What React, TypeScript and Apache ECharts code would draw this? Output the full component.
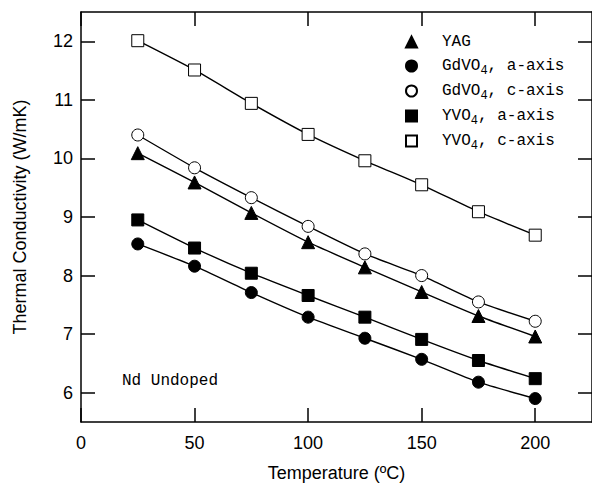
import React, { useEffect, useRef } from "react";
import * as echarts from "echarts";

const temperatures = [25, 50, 75, 100, 125, 150, 175, 200];
const yag = [10.09, 9.59, 9.07, 8.57, 8.14, 7.72, 7.31, 6.96];
const gdvo4A = [8.54, 8.16, 7.71, 7.29, 6.93, 6.57, 6.18, 5.9];
const gdvo4C = [10.4, 9.84, 9.33, 8.84, 8.37, 8.0, 7.55, 7.22];
const yvo4A = [8.95, 8.47, 8.04, 7.66, 7.29, 6.91, 6.55, 6.24];
const yvo4C = [12.01, 11.51, 10.94, 10.41, 9.96, 9.55, 9.09, 8.69];

const xTicks = [0, 50, 100, 150, 200];
const yTicks = [6, 7, 8, 9, 10, 11, 12];

const seriesDefs = [
  { name: "YAG", label: "YAG", data: yag, symbol: "triangle", filled: true, size: 13 },
  { name: "GdVO4a", label: "GdVO{sub|4}, a-axis", data: gdvo4A, symbol: "circle", filled: true, size: 12 },
  { name: "GdVO4c", label: "GdVO{sub|4}, c-axis", data: gdvo4C, symbol: "circle", filled: false, size: 12 },
  { name: "YVO4a", label: "YVO{sub|4}, a-axis", data: yvo4A, symbol: "rect", filled: true, size: 12 },
  { name: "YVO4c", label: "YVO{sub|4}, c-axis", data: yvo4C, symbol: "rect", filled: false, size: 12 },
];

export default function App() {
  const ref = useRef<HTMLDivElement>(null);
  useEffect(() => {
    if (!ref.current) return;
    const chart = echarts.init(ref.current, undefined, { renderer: "svg" });
    const sansFont = "'Liberation Sans', Arial, sans-serif";
    const monoFont = "'Liberation Mono', 'DejaVu Sans Mono', monospace";
    const labelMap: Record<string, string> = {};
    seriesDefs.forEach((s) => (labelMap[s.name] = s.label));

    const baseX = {
      type: "value" as const,
      min: 0,
      max: 225,
      splitLine: { show: false },
      axisLine: { show: true, onZero: false, lineStyle: { color: "#000", width: 1.5 } },
      axisTick: { show: true, inside: true, length: 14, customValues: xTicks, lineStyle: { color: "#000", width: 1.5 } },
    };
    const baseY = {
      type: "value" as const,
      min: 5.5,
      max: 12.5,
      splitLine: { show: false },
      axisLine: { show: true, onZero: false, lineStyle: { color: "#000", width: 1.5 } },
      axisTick: { show: true, inside: true, length: 14, customValues: yTicks, lineStyle: { color: "#000", width: 1.5 } },
    };

    chart.setOption({
      animation: false,
      backgroundColor: "#fff",
      grid: { left: 81, right: -5, top: 12, bottom: 65, containLabel: false },
      xAxis: [
        {
          ...baseX,
          position: "bottom",
          name: "Temperature (ºC)",
          nameLocation: "middle",
          nameGap: 42,
          nameTextStyle: { fontFamily: sansFont, fontSize: 18, color: "#000" },
          axisLabel: { customValues: xTicks, fontFamily: sansFont, fontSize: 18, color: "#000", margin: 12 },
        },
        { ...baseX, position: "top", axisLabel: { show: false } },
      ],
      yAxis: [
        {
          ...baseY,
          position: "left",
          name: "Thermal Conductivity (W/mK)",
          nameLocation: "middle",
          nameGap: 52,
          nameTextStyle: { fontFamily: sansFont, fontSize: 18, color: "#000" },
          axisLabel: { customValues: yTicks, fontFamily: sansFont, fontSize: 18, color: "#000", margin: 8 },
        },
        { ...baseY, position: "right", axisLabel: { show: false } },
      ],
      legend: {
        orient: "vertical",
        left: 405,
        top: 32,
        padding: 0,
        itemWidth: 11,
        itemHeight: 11,
        itemGap: 3,
        data: seriesDefs.map((s) => ({ name: s.name, icon: s.symbol })),
        formatter: (name: string) => labelMap[name],
        textStyle: {
          fontFamily: monoFont,
          fontSize: 16,
          color: "#000",
          padding: [0, 0, 0, 20],
          lineHeight: 20,
          rich: {
            sub: { fontFamily: monoFont, fontSize: 12, lineHeight: 20, padding: [10, 0, 0, 0] },
          },
        },
      },
      graphic: [
        {
          type: "text",
          left: 122,
          top: 373,
          style: { text: "Nd Undoped", fontFamily: monoFont, fontSize: 16, fill: "#000" },
        },
      ],
      series: seriesDefs.map((s) => ({
        name: s.name,
        type: "line",
        xAxisIndex: 0,
        yAxisIndex: 0,
        data: temperatures.map((t, i) => [t, s.data[i]]),
        smooth: 0.2,
        symbol: s.symbol,
        symbolSize: s.size,
        showAllSymbol: true,
        lineStyle: { color: "#000", width: 1.4 },
        itemStyle: s.filled
          ? { color: "#000", borderColor: "#000", borderWidth: 1 }
          : { color: "#fff", borderColor: "#000", borderWidth: 1 },
        emphasis: { disabled: true },
        z: 3,
      })),
    });
    return () => chart.dispose();
  }, []);
  return <div ref={ref} style={{ width: 592, height: 487, position: "absolute", left: 0, top: 0 }} />;
}
